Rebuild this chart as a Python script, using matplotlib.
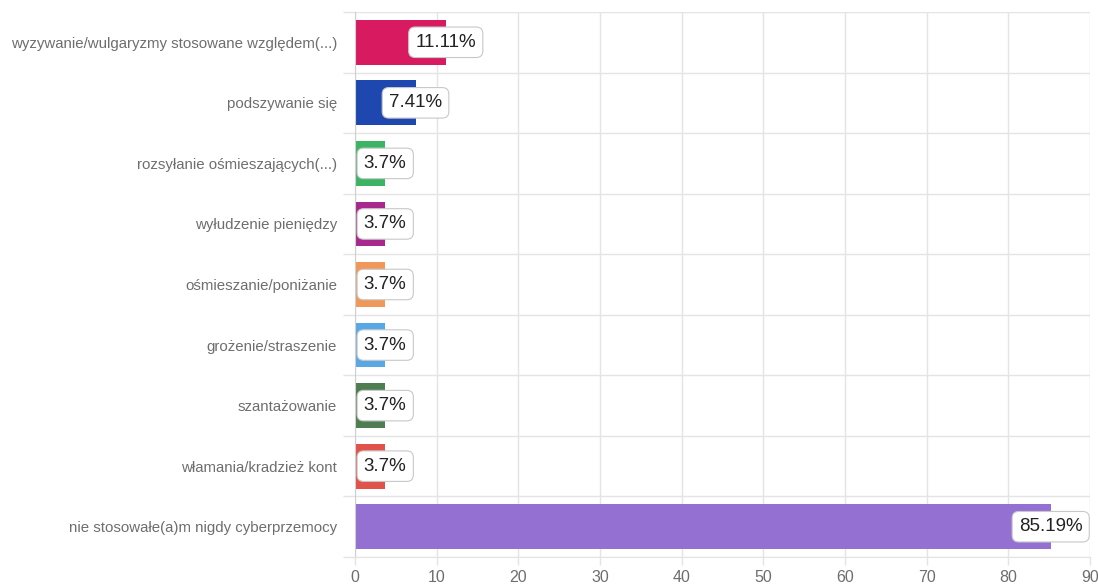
import matplotlib
matplotlib.use("Agg")
import matplotlib.pyplot as plt
from matplotlib.ticker import FixedLocator

plt.rcParams['font.family'] = ['Liberation Sans', 'DejaVu Sans']

# ── data ──────────────────────────────────────────────────────────────
categories = [
    "wyzywanie/wulgaryzmy stosowane względem(...)",
    "podszywanie się",
    "rozsyłanie ośmieszających(...)",
    "wyłudzenie pieniędzy",
    "ośmieszanie/poniżanie",
    "grożenie/straszenie",
    "szantażowanie",
    "włamania/kradzież kont",
    "nie stosowałe(a)m nigdy cyberprzemocy",
]
values = [11.11, 7.41, 3.7, 3.7, 3.7, 3.7, 3.7, 3.7, 85.19]
value_labels = ["11.11%", "7.41%", "3.7%", "3.7%", "3.7%", "3.7%", "3.7%", "3.7%", "85.19%"]
colors = ["#d81b60", "#1e47b0", "#3cb464", "#a8288e", "#f0975a",
          "#58a8e6", "#4f7d52", "#e0524a", "#9370d2"]
x_ticks = [0, 10, 20, 30, 40, 50, 60, 70, 80, 90]

GRID = "#e4e4e4"
TEXT = "#6e6e6e"

fig = plt.figure(figsize=(10.98, 5.85), dpi=100)
ax = fig.add_axes([355 / 1098, 1 - 557 / 585, 735 / 1098, 545 / 585])

ypos = list(range(len(categories)))
ax.barh(ypos, values, height=0.74, color=colors, zorder=2)

# value labels: white rounded boxes centred on the bar end
for y, v, lbl in zip(ypos, values, value_labels):
    ax.text(v, y, lbl, ha="center", va="center", fontsize=13.5, color="#222222", zorder=4,
            bbox=dict(boxstyle="round,pad=0.36,rounding_size=0.35", fc="white", ec="#c8c8c8", lw=0.8))

ax.set_xlim(0, 90)
ax.set_ylim(len(categories) - 0.5, -0.5)

ax.set_xticks(x_ticks)
ax.set_xticklabels([str(t) for t in x_ticks])
ax.set_yticks(ypos)
ax.set_yticklabels(categories)
ax.yaxis.set_minor_locator(FixedLocator([i - 0.5 for i in range(len(categories) + 1)]))

ax.tick_params(axis="y", which="major", length=0, pad=13, labelsize=10.8, labelcolor=TEXT)
ax.tick_params(axis="y", which="minor", length=9, color=GRID, width=1)
ax.tick_params(axis="x", which="major", length=6, color=GRID, width=1, labelsize=11.5,
               labelcolor=TEXT, pad=3)

ax.grid(axis="x", which="major", color=GRID, lw=1, zorder=0)
ax.grid(axis="y", which="minor", color=GRID, lw=1, zorder=0)

for side in ["top", "right"]:
    ax.spines[side].set_visible(False)
ax.spines["left"].set_color("#d0d0d0")
ax.spines["bottom"].set_color(GRID)

fig.savefig("out.png", dpi=100)
